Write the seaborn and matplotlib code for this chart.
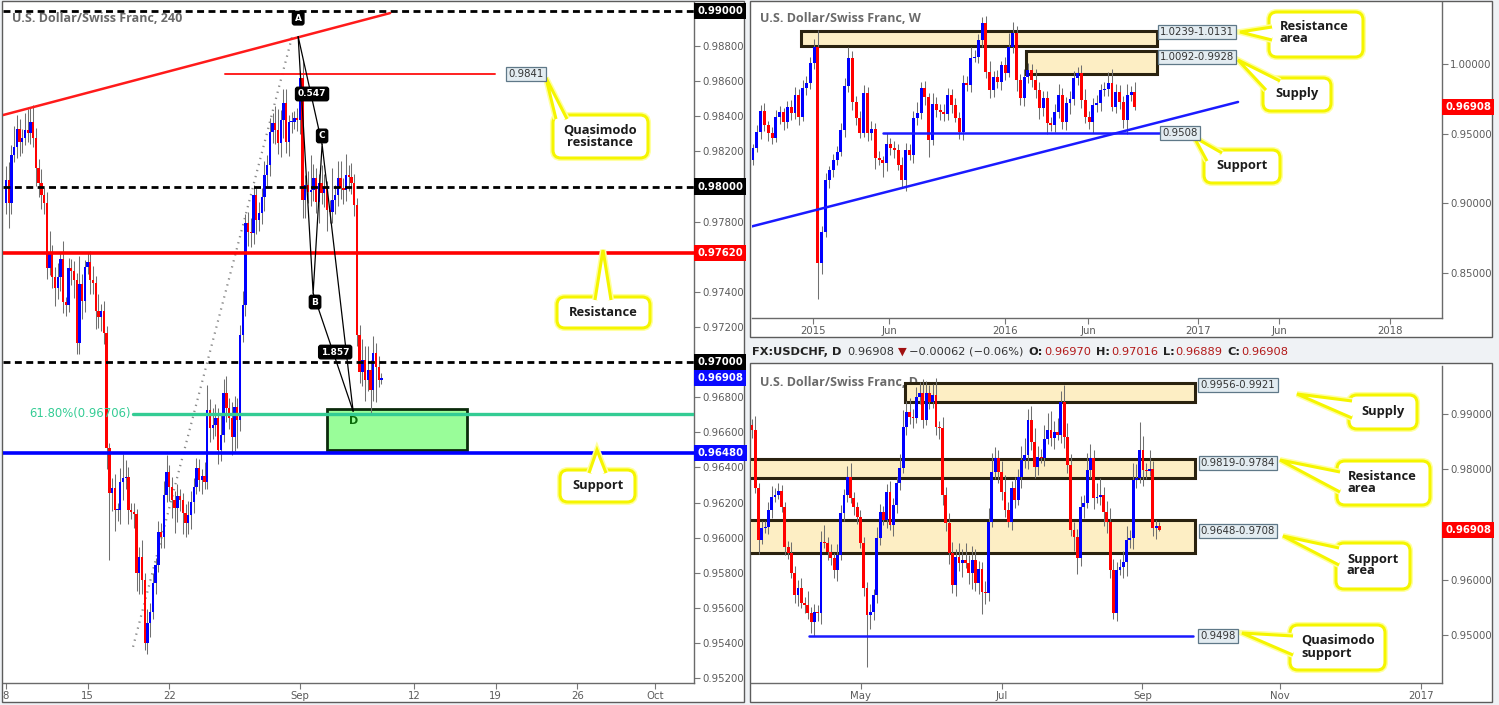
import numpy as np
import matplotlib
matplotlib.use("Agg")
import matplotlib.pyplot as plt
import matplotlib.transforms as mtransforms
from matplotlib.patches import Rectangle, FancyBboxPatch, Polygon
import seaborn as sns

sns.set_style("white")
plt.rcParams['font.family'] = ['DejaVu Sans']

W, H = 1499, 705

# ---------------- 4h chart (left) ----------------
h4_first_open = 0.97906
h4_close = [
    0.98037, 0.97906, 0.98179, 0.98225, 0.98327, 0.98253, 0.98276, 0.98321, 0.98304, 0.98367,
    0.98276, 0.98105, 0.98020, 0.97951, 0.97906, 0.97535, 0.97627, 0.97484, 0.97422, 0.97484,
    0.97587, 0.97342, 0.97325, 0.97535, 0.97518, 0.97467, 0.97108, 0.97444, 0.97347, 0.97541,
    0.97570, 0.97467, 0.97450, 0.97290, 0.97256, 0.97290, 0.97165, 0.96510, 0.96254, 0.96282,
    0.96157, 0.96157, 0.96316, 0.96339, 0.96345, 0.96157, 0.96146, 0.96134, 0.95798, 0.95889,
    0.95758, 0.95399, 0.95513, 0.95576, 0.95741, 0.95844, 0.96032, 0.96003, 0.96242, 0.96373,
    0.96288, 0.96214, 0.96168, 0.96237, 0.96214, 0.96140, 0.96083, 0.96129, 0.96203, 0.96288,
    0.96396, 0.96328, 0.96351, 0.96316, 0.96727, 0.96624, 0.96641, 0.96681, 0.96499, 0.96584,
    0.96823, 0.96738, 0.96681, 0.96573, 0.96744, 0.96670, 0.97154, 0.97325, 0.97792, 0.97740,
    0.97735, 0.97951, 0.97809, 0.97849, 0.97940, 0.98065, 0.98122, 0.98310, 0.98361, 0.98321,
    0.98247, 0.98378, 0.98475, 0.98253, 0.98367, 0.98367, 0.98390, 0.98378, 0.98618, 0.97923,
    0.98008, 0.97968, 0.97980, 0.98048, 0.97911, 0.98020, 0.97963, 0.97991, 0.97866, 0.97854,
    0.97923, 0.97951, 0.98048, 0.97991, 0.97980, 0.98065, 0.98054, 0.98020, 0.97894, 0.97154,
    0.96943, 0.97011, 0.96897, 0.96954, 0.96841, 0.97051, 0.96972, 0.96897, 0.96908,
]
# wick lengths in pips
h4_wick_hi = [
    8, 10, 6, 12, 8, 6, 5, 10, 12, 8,
    10, 6, 5, 8, 4, 6, 12, 4, 6, 8,
    4, 10, 3, 6, 5, 6, 4, 16, 6, 4,
    5, 6, 8, 4, 10, 4, 6, 4, 3, 6,
    8, 4, 8, 14, 10, 6, 4, 5, 3, 6,
    10, 4, 8, 5, 6, 4, 6, 5, 8, 10,
    4, 6, 5, 7, 4, 4, 5, 8, 6, 5,
    6, 5, 4, 8, 14, 6, 10, 8, 6, 12,
    8, 10, 6, 9, 6, 5, 6, 8, 5, 6,
    8, 6, 4, 6, 5, 8, 6, 8, 6, 10,
    12, 6, 8, 8, 4, 6, 4, 6, 4, 10,
    6, 8, 20, 8, 6, 5, 10, 8, 4, 6,
    18, 6, 10, 10, 6, 12, 6, 8, 5, 4,
    6, 12, 8, 14, 6, 10, 6, 6, 3,
]
h4_wick_lo = [
    6, 14, 6, 4, 6, 8, 6, 4, 5, 6,
    5, 10, 8, 8, 6, 6, 4, 6, 10, 6,
    8, 6, 6, 4, 8, 10, 6, 6, 10, 6,
    4, 8, 6, 10, 6, 8, 6, 12, 38, 10,
    12, 6, 8, 10, 6, 8, 4, 8, 10, 12,
    8, 4, 6, 8, 4, 6, 4, 6, 6, 4,
    8, 10, 14, 8, 6, 12, 8, 6, 8, 6,
    4, 6, 8, 4, 4, 8, 6, 6, 8, 6,
    4, 8, 6, 10, 8, 16, 6, 4, 6, 8,
    8, 6, 8, 6, 6, 8, 6, 6, 6, 8,
    6, 8, 10, 6, 8, 6, 4, 6, 8, 10,
    10, 6, 8, 6, 6, 12, 6, 8, 12, 6,
    6, 8, 6, 6, 8, 6, 8, 6, 6, 6,
    6, 8, 12, 6, 14, 6, 20, 4, 2,
]
h4_tick_labels = ['8', '15', '22', 'Sep', '12', '19', '26', 'Oct']
h4_tick_bars = [0, 30, 60, 108, 150, 180, 210, 238.5]
h4_levels_dashed = [0.99, 0.98, 0.97]
h4_resistance = 0.9762
h4_support = 0.9648
h4_fib = 0.96706
h4_qm = 0.9864
abcd_bar = [107.4, 112.9, 116.2, 127.6]
abcd_price = [0.98854, 0.97393, 0.98240, 0.96720]
fib_low = (46.7, 0.95378)
fib_high = (105.5, 0.98873)
h4_trend = [(-1.1, 0.98407), (141.2, 0.98988)]

# ---------------- weekly chart (top right) ----------------
wk_first_open = 0.93117
wk_close = [
    0.93977, 0.95124, 0.96630, 0.95626, 0.95053, 0.94694, 0.96200, 0.96558, 0.95841, 0.96917,
    0.96487, 0.97777, 0.96200, 0.98279, 0.98638, 1.00072, 1.01219, 0.85732, 0.87954, 0.91683,
    0.92400, 0.93117, 0.93690, 0.95268, 0.98423, 1.00430, 0.97275, 0.96128, 0.95053, 0.97921,
    0.95053, 0.95340, 0.93260, 0.93117, 0.92902, 0.94264, 0.93977, 0.93834, 0.92758, 0.91683,
    0.93834, 0.93475, 0.96128, 0.96487, 0.98279, 0.97634, 0.94551, 0.97132, 0.96702, 0.96558,
    0.96415, 0.97777, 0.97060, 0.96128, 0.95124, 0.98638, 0.98494, 1.00430, 1.00502, 1.01721,
    1.02940, 0.99426, 0.98136, 0.99068, 0.98709, 0.99928, 0.99355, 1.01219, 1.02223, 0.98853,
    0.97562, 0.99068, 0.99570, 0.98853, 0.98136, 0.96845, 0.97562, 0.95770, 0.95626, 0.96558,
    0.97777, 0.95841, 0.97204, 0.97490, 0.98996, 0.99355, 0.97419, 0.96200, 0.95841, 0.97060,
    0.97204, 0.98136, 0.98208, 0.98638, 0.96917, 0.97992, 0.97275, 0.95985, 0.97777, 0.97992,
    0.96908,
]
# wick lengths in thousandths
wk_wick_hi = [
    3, 5, 4, 6, 3, 4, 5, 4, 3, 4,
    5, 6, 4, 6, 5, 4, 6, 12, 4, 5,
    3, 4, 4, 5, 6, 8, 5, 4, 5, 6,
    4, 6, 4, 5, 3, 8, 4, 5, 4, 6,
    5, 4, 5, 8, 4, 5, 3, 8, 5, 4,
    6, 5, 4, 5, 4, 6, 5, 8, 5, 4,
    4, 5, 8, 4, 5, 3, 6, 10, 8, 5,
    4, 6, 5, 4, 8, 6, 5, 5, 4, 6,
    8, 5, 4, 6, 5, 4, 6, 8, 4, 5,
    6, 4, 5, 8, 10, 6, 5, 4, 8, 4,
    7,
]
wk_wick_lo = [
    4, 3, 5, 4, 6, 4, 3, 5, 6, 4,
    5, 4, 6, 3, 5, 4, 4, 26, 8, 4,
    6, 5, 4, 3, 5, 4, 6, 5, 4, 3,
    6, 5, 8, 4, 10, 6, 5, 6, 4, 5,
    8, 4, 6, 5, 4, 6, 12, 4, 5, 6,
    5, 4, 6, 3, 5, 6, 4, 5, 3, 4,
    5, 4, 6, 5, 4, 6, 5, 3, 4, 8,
    5, 6, 4, 5, 6, 8, 6, 8, 4, 5,
    4, 5, 6, 8, 4, 5, 6, 4, 5, 8,
    5, 6, 4, 5, 3, 4, 5, 6, 10, 4,
    2,
]
wk_tick_labels = ['2015', 'Jun', '2016', 'Jun', '2017', 'Jun', '2018']
wk_tick_bars = [15.7, 35.6, 66.0, 87.7, 116.5, 137.7, 166.8]
wk_res_area = (1.0131, 1.0239)
wk_supply = (0.9928, 1.0092)
wk_support = 0.9508
wk_trend = [(-0.8, 0.8831), (127.0, 0.97275)]

# ---------------- daily chart (bottom right) ----------------
d_first_open = 0.98800
d_close = [
    0.98711, 0.97662, 0.96722, 0.96939, 0.96957, 0.97264, 0.97499, 0.97535, 0.97608, 0.97319,
    0.96595, 0.96487, 0.96125, 0.95728, 0.95854, 0.95583, 0.95547, 0.95402, 0.95239, 0.95420,
    0.95400, 0.96686, 0.96668, 0.96505, 0.96396, 0.96180, 0.96451, 0.97210, 0.97535, 0.97861,
    0.97481, 0.97319, 0.97138, 0.96668, 0.95854, 0.95366, 0.95420, 0.95728, 0.96758, 0.97228,
    0.97084, 0.97590, 0.96993, 0.97355, 0.97752, 0.98024, 0.98765, 0.99036, 0.98946, 0.98928,
    0.99307, 0.99380, 0.98892, 0.99380, 0.99217, 0.99344, 0.98765, 0.98750, 0.97535, 0.97029,
    0.96487, 0.95908, 0.96415, 0.96306, 0.96360, 0.96306, 0.96125, 0.96360, 0.95944, 0.96198,
    0.95782, 0.95764, 0.97047, 0.97951, 0.98204, 0.97951, 0.97590, 0.97264, 0.97047, 0.97662,
    0.97445, 0.97861, 0.98168, 0.98259, 0.98892, 0.98494, 0.98042, 0.98223, 0.98204, 0.98548,
    0.98711, 0.98566, 0.98675, 0.98620, 0.99217, 0.98584, 0.98078, 0.96903, 0.96776, 0.96396,
    0.97319, 0.97391, 0.97988, 0.98204, 0.97481, 0.97499, 0.97535, 0.97228, 0.97047, 0.96180,
    0.95402, 0.96180, 0.96234, 0.96324, 0.96722, 0.96758, 0.97807, 0.97843, 0.98349, 0.97988,
    0.97970, 0.98006, 0.96939, 0.96970, 0.96908,
]
# wick lengths in pips
d_wick_hi = [
    10, 25, 8, 12, 10, 15, 20, 12, 15, 10,
    8, 10, 20, 12, 15, 18, 10, 25, 10, 15,
    12, 20, 30, 10, 15, 8, 20, 15, 10, 20,
    25, 10, 8, 12, 10, 10, 15, 10, 20, 15,
    10, 15, 20, 12, 10, 25, 30, 20, 25, 15,
    18, 20, 25, 22, 15, 20, 30, 10, 20, 15,
    18, 20, 15, 25, 20, 30, 15, 25, 20, 15,
    12, 20, 25, 35, 20, 15, 20, 30, 15, 12,
    20, 15, 25, 30, 20, 25, 25, 20, 15, 25,
    30, 35, 20, 25, 20, 30, 25, 20, 15, 15,
    20, 15, 30, 25, 15, 25, 30, 15, 20, 25,
    20, 15, 15, 20, 25, 15, 30, 25, 50, 25,
    12, 35, 15, 12, 8,
]
d_wick_lo = [
    15, 10, 25, 8, 10, 12, 15, 10, 8, 10,
    15, 12, 10, 15, 20, 10, 15, 12, 20, 25,
    15, 20, 10, 15, 12, 15, 20, 10, 15, 12,
    10, 15, 12, 10, 15, 95, 25, 15, 15, 12,
    10, 15, 10, 20, 15, 12, 10, 15, 12, 18,
    10, 12, 15, 10, 12, 10, 15, 20, 18, 15,
    20, 15, 20, 15, 25, 10, 20, 30, 15, 20,
    40, 20, 15, 10, 12, 20, 15, 12, 10, 15,
    15, 10, 20, 15, 25, 15, 20, 15, 10, 15,
    10, 15, 20, 10, 15, 20, 15, 12, 25, 30,
    15, 20, 10, 15, 20, 10, 15, 25, 20, 15,
    12, 15, 10, 20, 25, 15, 20, 15, 10, 30,
    15, 10, 15, 20, 3,
]
d_tick_labels = ['May', 'Jul', 'Sep', 'Nov', '2017']
d_tick_bars = [33.1, 76.0, 118.8, 160.8, 203.6]
d_supply = (0.9921, 0.9956)
d_res_area = (0.9784, 0.9819)
d_sup_area = (0.9648, 0.9708)
d_qm_support = 0.9498

last_price = 0.96908


def draw_candles(ax, first_open, closes, wick_hi, wick_lo, unit, width, minh):
    c = np.array(closes)
    o = np.concatenate([[first_open], c[:-1]])
    hi = np.maximum(o, c) + np.array(wick_hi) * unit
    lo = np.minimum(o, c) - np.array(wick_lo) * unit
    x = np.arange(len(c))
    ax.vlines(x, lo, hi, color='#707070', lw=0.75, zorder=3)
    bot = np.minimum(o, c)
    hgt = np.maximum(np.abs(c - o), minh)
    up = c >= o
    ax.bar(x[up], hgt[up], bottom=bot[up], width=width, color='#0000ff', lw=0, zorder=4)
    ax.bar(x[~up], hgt[~up], bottom=bot[~up], width=width, color='#ff0000', lw=0, zorder=4)


def style_axis(ax, xlim, ylim, xticks, xlabels, yticks):
    ax.set_facecolor('none')
    ax.set_xlim(xlim)
    ax.set_ylim(ylim)
    for s in ['left', 'top']:
        ax.spines[s].set_visible(False)
    for s in ['right', 'bottom']:
        ax.spines[s].set_color('#6a6a6a')
        ax.spines[s].set_linewidth(1)
    ax.yaxis.tick_right()
    ax.set_yticks(yticks)
    ax.set_yticklabels(['%.5f' % v for v in yticks])
    ax.set_xticks(xticks)
    ax.set_xticklabels(xlabels)
    ax.tick_params(axis='both', which='both', bottom=True, right=True, left=False, top=False,
                   labelright=True, labelleft=False, colors='#777777', labelcolor='#5a5a5a',
                   labelsize=7.3, length=4, width=0.8, direction='out', pad=2)
    ax.grid(False)


def price_tag(ax, y, txt, fc):
    tr = mtransforms.blended_transform_factory(ax.transAxes, ax.transData)
    ax.text(1.005, y, txt, transform=tr, ha='left', va='center', color='white',
            fontsize=7.3, fontweight='bold', zorder=10, clip_on=False,
            bbox=dict(boxstyle='square,pad=0.3', fc=fc, ec='none'))


fig = plt.figure(figsize=(W / 100, H / 100), dpi=100)
fig.patch.set_facecolor('#eff2f5')

ax_bg = fig.add_axes([0, 0, 1, 1], zorder=0, label='bg')
ax_bg.set_xlim(0, W)
ax_bg.set_ylim(H, 0)
ax_bg.axis('off')
for (x0, y0, x1, y1) in [(2, 1, 744, 702), (750, 1, 1492, 337), (750, 363, 1492, 702)]:
    ax_bg.add_patch(Rectangle((x0, y0), x1 - x0, y1 - y0, fc='white', ec='#5c5c5c', lw=1))

ax_fg = fig.add_axes([0, 0, 1, 1], zorder=20, label='fg')
ax_fg.set_xlim(0, W)
ax_fg.set_ylim(H, 0)
ax_fg.axis('off')
ax_fg.patch.set_alpha(0)


def px_rect(x0, y0, x1, y1):
    return [x0 / W, 1 - y1 / H, (x1 - x0) / W, (y1 - y0) / H]


# ================= left: 4h =================
ax1 = fig.add_axes(px_rect(3, 2, 694, 683), zorder=1)
style_axis(ax1, (-1.1, 252.9), (0.95172, 0.99051), h4_tick_bars, h4_tick_labels,
           [0.952, 0.954, 0.956, 0.958, 0.960, 0.962, 0.964, 0.966, 0.968,
            0.972, 0.974, 0.978, 0.982, 0.984, 0.986, 0.988])

draw_candles(ax1, h4_first_open, h4_close, h4_wick_hi, h4_wick_lo, 0.0001, 0.86, 0.00004)

for lvl in h4_levels_dashed:
    ax1.axhline(lvl, color='black', lw=2, ls=(0, (2.5, 1.6)), zorder=5)
ax1.axhline(h4_resistance, color='#ff0000', lw=2.6, zorder=5)
ax1.axhline(h4_support, color='#0000ff', lw=2.6, zorder=5)
ax1.plot([fib_low[0], 252.9], [h4_fib, h4_fib], color='#33cc94', lw=2.4, zorder=5)
ax1.text(46, h4_fib, '61.80%(0.96706)', ha='right', va='center', color='#33cc94', fontsize=8.4, zorder=6)
ax1.plot([fib_low[0], fib_high[0]], [fib_low[1], fib_high[1]], color='#8a8a8a', lw=1.6,
         ls=(0, (0.6, 2.2)), zorder=2)
ax1.plot([h4_trend[0][0], h4_trend[1][0]], [h4_trend[0][1], h4_trend[1][1]], color='#ff1a1a', lw=1.8, zorder=5)
ax1.plot([80.5, 179.8], [h4_qm, h4_qm], color='#ff2020', lw=1.4, zorder=5)

ax1.add_patch(Rectangle((118, 0.96499), 51.5, 0.96732 - 0.96499, fc='#99fd99', ec='#0b2a0b', lw=2, zorder=2))
ax1.text(127.9, 0.96664, 'D', ha='center', va='center', color='#0a6a0a', fontsize=8, fontweight='bold', zorder=7)

sns.lineplot(x=abcd_bar, y=abcd_price, sort=False, color='black', lw=0.9, ax=ax1, zorder=6)
ax1.plot([abcd_bar[0], abcd_bar[2]], [abcd_price[0], abcd_price[2]], color='black', lw=0.9, zorder=6)
ax1.plot([abcd_bar[1], abcd_bar[3]], [abcd_price[1], abcd_price[3]], color='black', lw=0.9, zorder=6)
lab = dict(ha='center', va='center', color='white', fontsize=6.5, fontweight='bold', zorder=8,
           bbox=dict(boxstyle='round,pad=0.25', fc='black', ec='black'))
ax1.text(107.4, 0.98959, 'A', **lab)
ax1.text(113.6, 0.97342, 'B', **lab)
ax1.text(116.2, 0.98288, 'C', **lab)
ax1.text(112.5, 0.98527, '0.547', **lab)
ax1.text(121.0, 0.97057, '1.857', **lab)

price_tag(ax1, 0.99, '0.99000', 'black')
price_tag(ax1, 0.98, '0.98000', 'black')
price_tag(ax1, h4_resistance, '0.97620', '#ff0000')
price_tag(ax1, 0.97, '0.97000', 'black')
price_tag(ax1, last_price, '0.96908', '#0a0aff')
price_tag(ax1, h4_support, '0.96480', '#0a0aff')

# ================= top right: weekly =================
ax2 = fig.add_axes(px_rect(752, 2, 1442, 318), zorder=1)
style_axis(ax2, (-0.26, 180.4), (0.81772, 1.04448), wk_tick_bars, wk_tick_labels,
           [0.85, 0.90, 0.95, 1.00])
draw_candles(ax2, wk_first_open, wk_close, wk_wick_hi, wk_wick_lo, 0.001, 0.78, 0.0008)
zone_kw = dict(fc='#fdeec4', ec='#2a220f', lw=2.2, zorder=2)
ax2.add_patch(Rectangle((12.6, wk_res_area[0]), 105.8 - 12.6, wk_res_area[1] - wk_res_area[0], **zone_kw))
ax2.add_patch(Rectangle((71.5, wk_supply[0]), 105.8 - 71.5, wk_supply[1] - wk_supply[0], **zone_kw))
ax2.plot([34.0, 106.5], [wk_support, wk_support], color='#1a1aff', lw=1.8, zorder=5)
ax2.plot([wk_trend[0][0], wk_trend[1][0]], [wk_trend[0][1], wk_trend[1][1]], color='#1a1aff', lw=1.8, zorder=5)
price_tag(ax2, last_price, '0.96908', '#ff0000')

# ================= bottom right: daily =================
ax3 = fig.add_axes(px_rect(751, 366, 1442, 683), zorder=1)
style_axis(ax3, (-0.3, 210.0), (0.94132, 0.99868), d_tick_bars, d_tick_labels,
           [0.95, 0.96, 0.98, 0.99])
ax3.text(760, 382, 'U.S. Dollar/Swiss Franc, D', transform=ax_fg.transData, ha='left', va='center',
         fontsize=9, fontweight='bold', family='Open Sans', color='#6a6a6a', zorder=1, clip_on=False)
draw_candles(ax3, d_first_open, d_close, d_wick_hi, d_wick_lo, 0.0001, 0.84, 0.0002)
ax3.add_patch(Rectangle((46.5, d_supply[0]), 134.7 - 46.5, d_supply[1] - d_supply[0], **zone_kw))
ax3.add_patch(Rectangle((-2, d_res_area[0]), 136.7, d_res_area[1] - d_res_area[0], **zone_kw))
ax3.add_patch(Rectangle((-2, d_sup_area[0]), 136.7, d_sup_area[1] - d_sup_area[0], **zone_kw))
ax3.plot([17.3, 134.3], [d_qm_support, d_qm_support], color='#1a1aff', lw=1.8, zorder=5)
price_tag(ax3, last_price, '0.96908', '#ff0000')

# ================= titles / header =================
title_kw = dict(ha='left', va='center', fontsize=9, fontweight='bold', family='Open Sans', color='#6a6a6a')
ax_fg.text(12, 18, 'U.S. Dollar/Swiss Franc, 240', **title_kw)
ax_fg.text(760, 18, 'U.S. Dollar/Swiss Franc, W', **title_kw)

# header line of the daily panel, laid out piece by piece
hdr = [('FX:USDCHF, D', 'bold', '#222222', 6), ('0.96908', 'normal', '#333333', 3),
       ('\u25bc', 'normal', '#a01010', 3), ('\u22120.00062 (\u22120.06%)', 'normal', '#333333', 5),
       ('O:', 'bold', '#222222', 1), ('0.96970', 'normal', '#b21818', 5),
       ('H:', 'bold', '#222222', 1), ('0.97016', 'normal', '#b21818', 5),
       ('L:', 'bold', '#222222', 1), ('0.96889', 'normal', '#b21818', 5),
       ('C:', 'bold', '#222222', 1), ('0.96908', 'normal', '#b21818', 5)]
renderer = fig.canvas.get_renderer()
hx = 752
for t, fw, col, gap in hdr:
    tt = ax_fg.text(hx, 352, t, ha='left', va='center', fontsize=8.2, fontweight=fw, color=col)
    hx += tt.get_window_extent(renderer).width + gap

# ================= level labels =================
level_kw = dict(ha='center', va='center', fontsize=7.3, color='#333333', zorder=8,
                bbox=dict(boxstyle='square,pad=0.22', fc='#e3ecf1', ec='#5f7888', lw=0.9))
for x, y, t in [(526, 74, '0.9841'), (1197, 32, '1.0239-1.0131'), (1197, 57, '1.0092-0.9928'),
                (1180, 133, '0.9508'), (1238, 385, '0.9956-0.9921'), (1238, 463, '0.9819-0.9784'),
                (1238, 531, '0.9648-0.9708'), (1218, 636, '0.9498')]:
    ax_fg.text(x, y, t, **level_kw)


# ================= callouts =================
def callout(box, tip, base, text, tx, ty, ha='center'):
    x0, y0, x1, y1 = box
    for lw, col, z in [(4.4, '#ffffa0', 1), (2.2, '#f5f500', 2)]:
        ax_fg.add_patch(FancyBboxPatch((x0, y0), x1 - x0, y1 - y0,
                                       boxstyle='round,pad=0,rounding_size=8',
                                       fc='white', ec=col, lw=lw, zorder=z))
    for lw, col, z in [(4.4, '#ffffa0', 3), (2.2, '#f5f500', 4)]:
        ax_fg.add_patch(Polygon([base[0], tip, base[1]], closed=False, fc='white', ec=col,
                                lw=lw, zorder=z, joinstyle='miter'))
    ax_fg.text(tx, ty, text, ha=ha, va='center', fontsize=9.3, fontweight='bold',
               family='Open Sans', color='#1c1c1c', linespacing=0.9, zorder=6)


callout((553, 115, 648, 158), (546, 78), [(556, 119), (567, 119)], 'Quasimodo\nresistance', 600, 136)
callout((557, 297, 650, 328), (603, 250), [(595, 300), (611, 300)], 'Resistance', 603, 312)
callout((560, 470, 635, 502), (597, 450), [(589, 473), (606, 473)], 'Support', 598, 486)
callout((1269, 12, 1363, 57), (1240, 32), [(1272, 27), (1272, 40)], 'Resistance\narea', 1280, 33, 'left')
callout((1263, 78, 1331, 111), (1238, 60), [(1266, 90), (1280, 81)], 'Supply', 1297, 94)
callout((1204, 150, 1280, 183), (1194, 137), [(1207, 161), (1222, 153)], 'Support', 1242, 166)
callout((1349, 395, 1417, 429), (1297, 394), [(1352, 401), (1352, 418)], 'Supply', 1383, 411)
callout((1337, 461, 1430, 505), (1280, 460), [(1340, 472), (1340, 492)], 'Resistance\narea', 1348, 483, 'left')
callout((1336, 543, 1410, 589), (1283, 536), [(1339, 548), (1339, 565)], 'Support\narea', 1347, 565, 'left')
callout((1290, 625, 1385, 670), (1242, 633), [(1293, 636), (1293, 655)], 'Quasimodo\nsupport', 1301, 647, 'left')

fig.savefig('out.png', dpi=100, facecolor=fig.get_facecolor())
